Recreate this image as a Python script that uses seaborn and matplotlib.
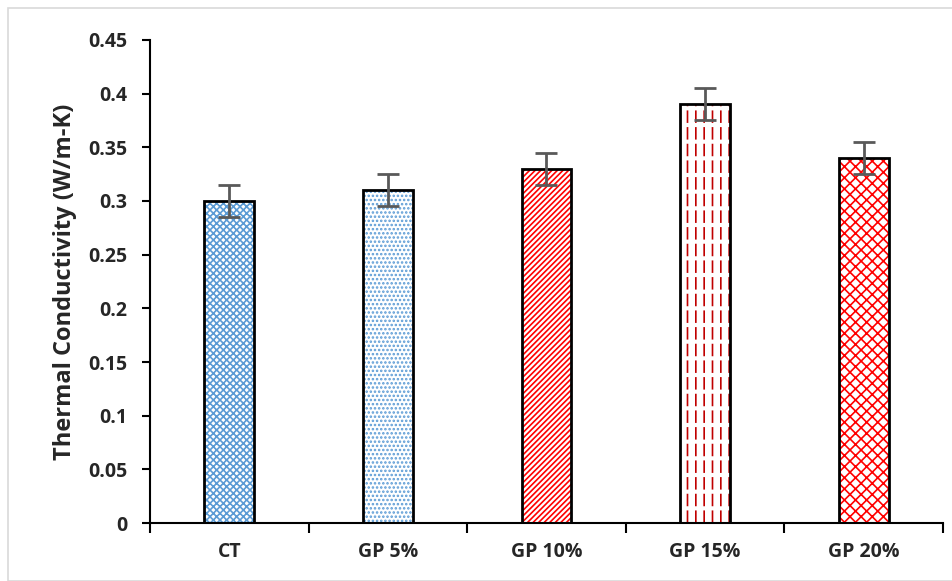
import matplotlib
matplotlib.use("Agg")
import matplotlib.pyplot as plt
import seaborn as sns
from matplotlib.patches import Rectangle

categories = ["CT", "GP 5%", "GP 10%", "GP 15%", "GP 20%"]
conductivity = [0.30, 0.31, 0.33, 0.39, 0.34]
errors = [0.015, 0.015, 0.015, 0.015, 0.015]
y_ticks = [0, 0.05, 0.1, 0.15, 0.2, 0.25, 0.3, 0.35, 0.4, 0.45]
y_tick_labels = ["0", "0.05", "0.1", "0.15", "0.2", "0.25", "0.3", "0.35", "0.4", "0.45"]

hatches = ["xxxxx", "....", "//////", "||", "xxx"]
hatch_colors = ["#5B9BD5", "#5B9BD5", "#FF0000", "#C00000", "#FF0000"]

sns.set_style("white")
plt.rcParams["font.family"] = ["Open Sans", "DejaVu Sans"]
plt.rcParams["hatch.linewidth"] = 1.2

fig = plt.figure(figsize=(9.52, 5.81), dpi=100)
ax = fig.add_axes([0.1576, 0.0998, 0.8329, 0.8314])

# hatched fill layer
sns.barplot(x=categories, y=conductivity, hue=categories, palette=hatch_colors,
            legend=False, width=0.315, ax=ax, errorbar=None)
for patch, hatch, col in zip(ax.patches, hatches, hatch_colors):
    patch.set_facecolor("white")
    patch.set_edgecolor(col)
    patch.set_hatch(hatch)
    patch.set_linewidth(0)

# white horizontal breaks turn the GP 15% stripes into dashes
n_before = len(ax.patches)
with plt.rc_context({"hatch.linewidth": 3}):
    sns.barplot(x=categories, y=conductivity, fill=False, color="white",
                width=0.315, ax=ax, errorbar=None, linewidth=0)
for i, patch in enumerate(ax.patches[n_before:]):
    if categories[i] == "GP 15%":
        patch.set_hatch("-")
        if hasattr(patch, "set_hatch_linewidth"):
            patch.set_hatch_linewidth(3)
    else:
        patch.set_visible(False)

# black outline layer
sns.barplot(x=categories, y=conductivity, fill=False, color="black",
            linewidth=2, width=0.315, ax=ax, errorbar=None)

ax.errorbar(range(len(categories)), conductivity, yerr=errors, fmt="none",
            ecolor="#595959", elinewidth=2, capsize=8, capthick=2, zorder=5)

ax.set_ylim(0, 0.45)
ax.set_xlim(-0.5, len(categories) - 0.5)
ax.set_yticks(y_ticks)
ax.set_yticklabels(y_tick_labels, fontsize=14, fontweight="bold")
ax.set_xticks([i - 0.5 for i in range(len(categories) + 1)])
ax.set_xticklabels([])
ax.set_xticks(range(len(categories)), minor=True)
ax.set_xticklabels(categories, minor=True, fontsize=14, fontweight="bold")
ax.tick_params(axis="x", which="major", bottom=True, direction="out", length=7,
               width=1.5, color="black")
ax.tick_params(axis="x", which="minor", bottom=False, length=0, pad=14)
ax.tick_params(axis="y", left=True, direction="out", length=5.5, width=1.5,
               color="black", pad=11)
ax.set_xlabel("")
ax.set_ylabel("Thermal Conductivity (W/m-K)", fontsize=17, fontweight="bold", labelpad=8)

for side in ["top", "right"]:
    ax.spines[side].set_visible(False)
for side in ["left", "bottom"]:
    ax.spines[side].set_color("black")
    ax.spines[side].set_linewidth(1.5)

fig.patches.append(Rectangle((8 / 952, 0), 1, 1 - 8 / 581, transform=fig.transFigure,
                             fill=False, edgecolor="#D9D9D9", linewidth=1.2))

fig.savefig("out.png", dpi=100)
